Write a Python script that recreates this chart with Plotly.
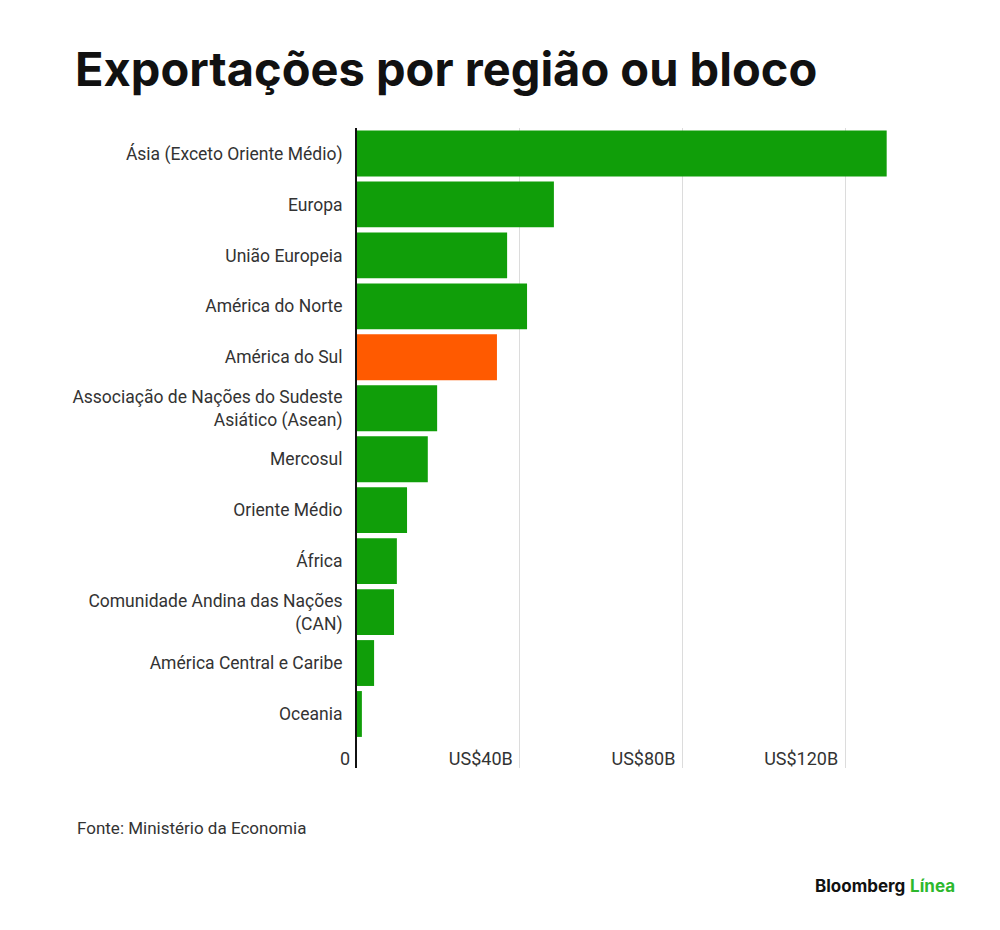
import plotly.graph_objects as go

categories = [
    "Ásia (Exceto Oriente Médio)",
    "Europa",
    "União Europeia",
    "América do Norte",
    "América do Sul",
    "Associação de Nações do Sudeste<br>Asiático (Asean)",
    "Mercosul",
    "Oriente Médio",
    "África",
    "Comunidade Andina das Nações<br>(CAN)",
    "América Central e Caribe",
    "Oceania",
]
values = [130.2, 48.4, 36.9, 41.8, 34.4, 19.7, 17.4, 12.3, 9.8, 9.1, 4.2, 1.2]
highlight = "América do Sul"
tick_vals = [0, 40, 80, 120]
tick_text = ["0", "US$40B", "US$80B", "US$120B"]

GREEN = "#109e09"
ORANGE = "#ff5a00"
colors = [ORANGE if c == highlight else GREEN for c in categories]
ypos = list(range(len(categories)))

fig = go.Figure(
    go.Bar(
        x=values,
        y=ypos,
        orientation="h",
        marker=dict(color=colors, line=dict(width=0)),
        width=0.9,
        hoverinfo="skip",
    )
)

# page has an 8px body margin; layout numbers below are relative to the figure
L, R, T, B = 349, 114, 120, 170
PW = 1000 - L - R
PH = 930 - T - B

fig.update_layout(
    width=1000,
    height=930,
    paper_bgcolor="white",
    plot_bgcolor="white",
    margin=dict(l=L, r=R, t=T, b=B),
    showlegend=False,
    font=dict(family="Roboto", color="#333333"),
    title=dict(
        text="<b>Exportações por região ou bloco</b>",
        font=dict(family="Inter", size=47, color="#111111", weight=900),
        x=67 / 1000,
        xanchor="left",
        xref="container",
        y=1 - 62 / 930,
        yanchor="middle",
    ),
)

fig.update_xaxes(
    range=[0, 132],
    tickvals=tick_vals,
    ticktext=tick_text,
    ticklabelposition="inside left",
    ticklabeloverflow="allow",
    ticklabelshift=-7,
    ticklabelstandoff=-7,
    tickfont=dict(size=18, color="#333333"),
    showgrid=True,
    gridcolor="#dcdcdc",
    gridwidth=1,
    zeroline=False,
    showline=False,
    ticks="",
    fixedrange=True,
)
fig.update_yaxes(
    range=[12.06, -0.5],
    tickvals=ypos,
    ticktext=categories,
    tickfont=dict(size=17.5, color="#333333"),
    ticklabelstandoff=9,
    showgrid=False,
    zeroline=False,
    showline=True,
    linecolor="#111111",
    linewidth=2,
    ticks="",
    ticklen=0,
    fixedrange=True,
)

fig.add_annotation(
    text="Fonte: Ministério da Economia",
    xref="paper", yref="paper",
    x=(67 - L) / PW, y=-(820 - (T + PH)) / PH,
    xanchor="left", yanchor="middle",
    showarrow=False,
    font=dict(family="Roboto", size=17, color="#333333"),
)
fig.add_annotation(
    text="<b>Bloomberg</b> <b><span style='color:#2db82d'>Línea</span></b>",
    xref="paper", yref="paper",
    x=(949 - L) / PW, y=-(878 - (T + PH)) / PH,
    xanchor="right", yanchor="middle",
    showarrow=False,
    font=dict(family="Inter", size=17, color="#111111"),
)

fig.write_html("out.html")
